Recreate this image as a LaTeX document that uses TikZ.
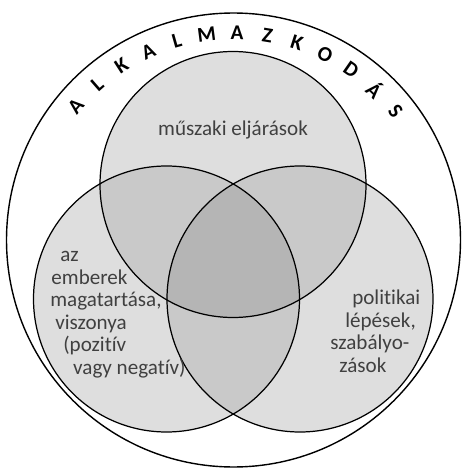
\documentclass[tikz,border=0pt]{standalone}
\usepackage{fontspec}
\setmainfont[Ligatures=NoCommon]{Carlito}
\definecolor{onefill}{gray}{0.87}
\definecolor{twofill}{gray}{0.79}
\definecolor{threefill}{gray}{0.71}
\definecolor{ink}{gray}{0.25}
\begin{document}
\begin{tikzpicture}[x=0.02cm, y=0.02cm,
    ring/.style={draw=black, line width=0.7pt},
    label/.style={text=ink, font=\fontsize{12}{12.8}\selectfont, align=left, inner sep=0pt}]
    \useasboundingbox (0,0) rectangle (463,468);

    % Centres
    \coordinate (outer) at (233.5,228);
    \coordinate (top) at (233,283.5);
    \coordinate (left) at (166.5,169);
    \coordinate (right) at (300,169);

    % Outer circle
    \draw[line width=0.8pt] (outer) circle (227);

    % Fills
    \fill[onefill] (top) circle (133);
    \fill[onefill] (left) circle (133);
    \fill[onefill] (right) circle (133);
    \begin{scope}
        \clip (top) circle (133);
        \fill[twofill] (left) circle (133);
        \fill[twofill] (right) circle (133);
    \end{scope}
    \begin{scope}
        \clip (left) circle (133);
        \fill[twofill] (right) circle (133);
        \clip (right) circle (133);
        \fill[threefill] (top) circle (133);
    \end{scope}

    % Circle outlines
    \draw[ring] (top) circle (133);
    \draw[ring] (left) circle (133);
    \draw[ring] (right) circle (133);

    % Arc title
    \foreach \ch [count=\i] in {A,L,K,A,L,M,A,Z,K,O,D,Á,S} {
        \pgfmathsetmacro{\ang}{139.6-(\i-1)*8.43}
        \node[font=\fontsize{12}{12}\selectfont\bfseries, rotate=\ang-90, inner sep=0pt]
            (l\i) at ([shift={(\ang:207)}]outer) {\ch};
    }

    % Labels
    \node[label, align=center] (tech) at (233,338) {műszaki eljárások};
    \node[label, anchor=north west] (people) at (50,217) {%
        \hspace*{5.7pt}az\\
        \hspace*{0.6pt}emberek\\
        magatartása,\\
        \hspace*{2.8pt}viszonya\\
        \hspace*{7.4pt}(pozitív\\
        \hspace*{13pt}vagy negatív)};
    \node[label, anchor=north west] (policy) at (330,178) {%
        \hspace*{12.5pt}politikai\\
        \hspace*{8.5pt}lépések,\\
        szabályo-\\
        \hspace*{5.1pt}zások};
\end{tikzpicture}
\end{document}
